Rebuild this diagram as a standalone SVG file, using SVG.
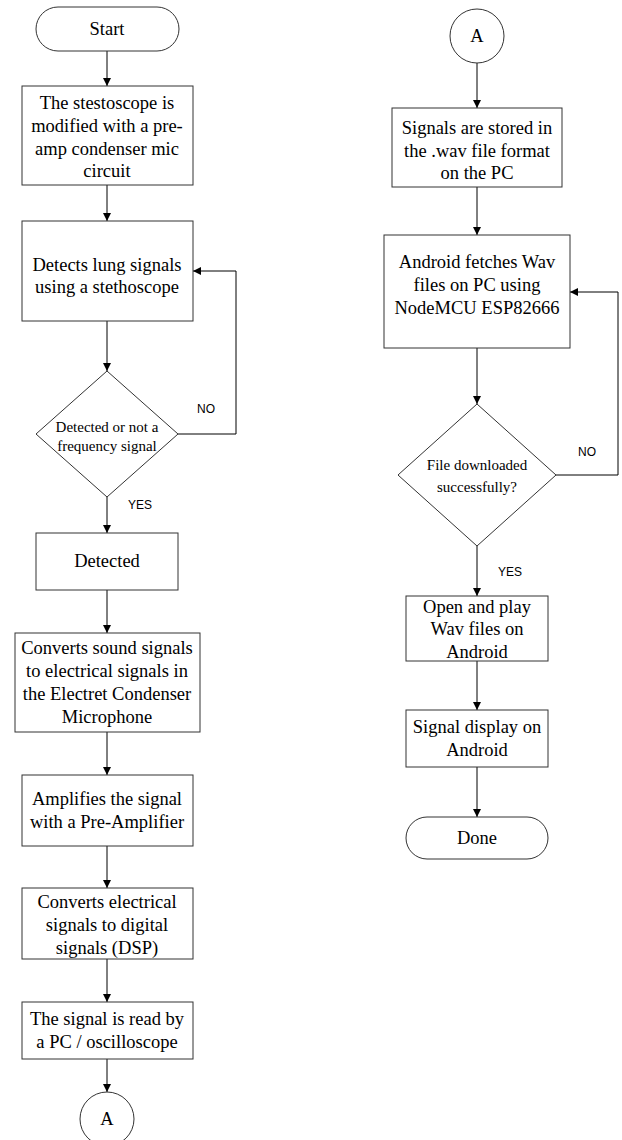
<svg xmlns="http://www.w3.org/2000/svg" width="622" height="1140" viewBox="0 0 622 1140">
<style>
.n{fill:#fff;stroke:#333;stroke-width:1}
.t{font-family:"Liberation Serif","Times New Roman",serif;font-size:18.5px;fill:#000;text-anchor:middle}
.d{font-family:"Liberation Serif","Times New Roman",serif;font-size:15px;fill:#000;text-anchor:middle}
.l{font-family:"Liberation Sans",Arial,sans-serif;font-size:12px;fill:#000;text-anchor:middle}
.c{fill:none;stroke:#000;stroke-width:1;marker-end:url(#ah)}
</style>
<defs>
<marker id="ah" markerWidth="8" markerHeight="8" refX="8" refY="4" orient="auto" markerUnits="userSpaceOnUse">
<path d="M0,0 L8,4 L0,8 Z" fill="#000"/>
</marker>
</defs>
<rect width="622" height="1140" fill="#fff"/>
<g id="connectors">
<path class="c" d="M107,51 V86"/>
<path class="c" d="M107,185 V221"/>
<path class="c" d="M107,321 V371"/>
<path class="c" d="M107,497 V533"/>
<path class="c" d="M107,590 V633"/>
<path class="c" d="M107,732 V775"/>
<path class="c" d="M107,846 V888"/>
<path class="c" d="M107,959 V1002"/>
<path class="c" d="M107,1059 V1092"/>
<path class="c" d="M178,434 H236 V271 H193"/>
<path class="c" d="M477,63 V108"/>
<path class="c" d="M477,187 V235"/>
<path class="c" d="M477,348 V404"/>
<path class="c" d="M477,546 V596"/>
<path class="c" d="M477,661 V710"/>
<path class="c" d="M477,767 V817"/>
<path class="c" d="M556,475 H618 V292 H570"/>
<text class="l" x="206" y="413">NO</text>
<text class="l" x="140" y="509">YES</text>
<text class="l" x="587" y="456">NO</text>
<text class="l" x="510" y="576">YES</text>
</g>
<g id="start">
<rect class="n" x="36" y="7" width="143" height="44" rx="22"/>
<text class="t" x="107" y="35">Start</text>
</g>
<g id="modify">
<rect class="n" x="22" y="86" width="171" height="99"/>
<text class="t" x="107" y="109">The stestoscope is</text>
<text class="t" x="107" y="132">modified with a pre-</text>
<text class="t" x="107" y="155">amp condenser mic</text>
<text class="t" x="107" y="177">circuit</text>
</g>
<g id="detects">
<rect class="n" x="22" y="221" width="171" height="100"/>
<text class="t" x="107" y="271">Detects lung signals</text>
<text class="t" x="107" y="293">using a stethoscope</text>
</g>
<g id="decision1">
<polygon class="n" points="107,371 178,434 107,497 36,434"/>
<text class="d" x="107" y="432">Detected or not a</text>
<text class="d" x="107" y="451">frequency signal</text>
</g>
<g id="detected">
<rect class="n" x="36" y="533" width="142" height="57"/>
<text class="t" x="107" y="567">Detected</text>
</g>
<g id="converts-sound">
<rect class="n" x="15" y="633" width="185" height="99"/>
<text class="t" x="107" y="654">Converts sound signals</text>
<text class="t" x="107" y="677">to electrical signals in</text>
<text class="t" x="107" y="700">the Electret Condenser</text>
<text class="t" x="107" y="723">Microphone</text>
</g>
<g id="amplifies">
<rect class="n" x="22" y="775" width="171" height="71"/>
<text class="t" x="107" y="805">Amplifies the signal</text>
<text class="t" x="107" y="828">with a Pre-Amplifier</text>
</g>
<g id="converts-elec">
<rect class="n" x="22" y="888" width="171" height="71"/>
<text class="t" x="107" y="908">Converts electrical</text>
<text class="t" x="107" y="931">signals to digital</text>
<text class="t" x="107" y="954">signals (DSP)</text>
</g>
<g id="read">
<rect class="n" x="22" y="1002" width="171" height="57"/>
<text class="t" x="107" y="1025">The signal is read by</text>
<text class="t" x="107" y="1048">a PC / oscilloscope</text>
</g>
<g id="connector-a1">
<circle class="n" cx="107" cy="1119" r="27"/>
<text class="t" x="107" y="1125">A</text>
</g>
<g id="connector-a2">
<circle class="n" cx="477" cy="36" r="27"/>
<text class="t" x="477" y="42">A</text>
</g>
<g id="stored">
<rect class="n" x="392" y="108" width="170" height="79"/>
<text class="t" x="477" y="134">Signals are stored in</text>
<text class="t" x="477" y="157">the .wav file format</text>
<text class="t" x="477" y="179">on the PC</text>
</g>
<g id="fetches">
<rect class="n" x="384" y="235" width="186" height="113"/>
<text class="t" x="477" y="268">Android fetches Wav</text>
<text class="t" x="477" y="291">files on PC using</text>
<text class="t" x="477" y="314">NodeMCU ESP82666</text>
</g>
<g id="decision2">
<polygon class="n" points="477,404 556,475 477,546 398,475"/>
<text class="d" x="477" y="470">File downloaded</text>
<text class="d" x="477" y="492">successfully?</text>
</g>
<g id="open-play">
<rect class="n" x="406" y="596" width="142" height="65"/>
<text class="t" x="477" y="613">Open and play</text>
<text class="t" x="477" y="635">Wav files on</text>
<text class="t" x="477" y="658">Android</text>
</g>
<g id="display">
<rect class="n" x="406" y="710" width="142" height="57"/>
<text class="t" x="477" y="733">Signal display on</text>
<text class="t" x="477" y="756">Android</text>
</g>
<g id="done">
<rect class="n" x="406" y="817" width="142" height="42" rx="21"/>
<text class="t" x="477" y="844">Done</text>
</g>
</svg>
